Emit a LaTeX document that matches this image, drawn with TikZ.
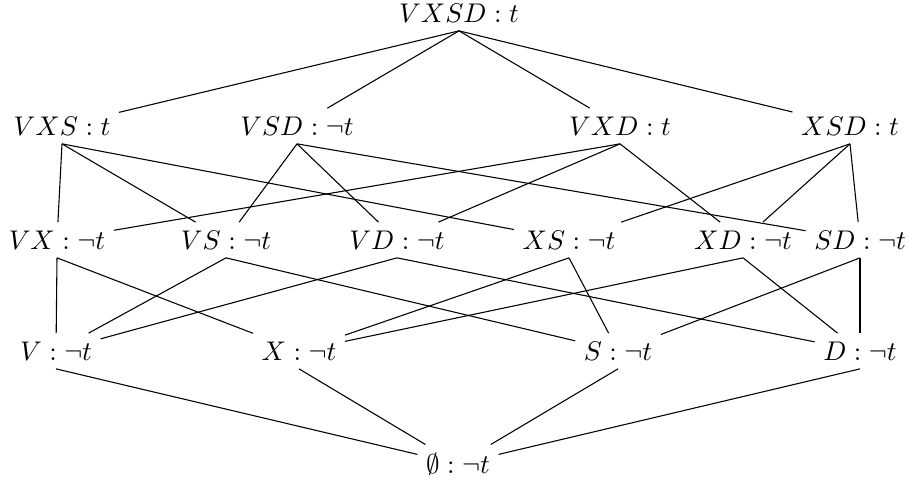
\documentclass[tikz,border=0pt]{standalone}
\usepackage{amsmath,amssymb}
\usepackage{tikz}
\usetikzlibrary{positioning}

\begin{document}
\begin{tikzpicture}[
  x=0.37037pt,y=-0.37037pt,
  elem/.style={inner sep=3pt},
  edge/.style={thin}
]
\useasboundingbox (0,0) rectangle (909,483);
% top
\node[elem] (vxsd) at (459,13) {$VXSD : t$};
% three elements
\node[elem] (vxs) at (62,126) {$VXS : t$};
\node[elem] (vsd) at (297,126) {$VSD : \neg t$};
\node[elem] (vxd) at (620,126) {$VXD : t$};
\node[elem] (xsd) at (850,126) {$XSD : t$};
% two elements
\node[elem] (vx) at (57,240) {$VX : \neg t$};
\node[elem] (vs) at (226,240) {$VS : \neg t$};
\node[elem] (vd) at (397,240) {$VD : \neg t$};
\node[elem] (xs) at (569,240) {$XS : \neg t$};
\node[elem] (xd) at (743,240) {$XD : \neg t$};
\node[elem] (sd) at (860,240) {$SD : \neg t$};
% one element
\node[elem] (v) at (56,351) {$V : \neg t$};
\node[elem] (x) at (299,351) {$X : \neg t$};
\node[elem] (s) at (618,351) {$S : \neg t$};
\node[elem] (d) at (860,351) {$D : \neg t$};
% bottom
\node[elem] (empty) at (458,464) {$\emptyset : \neg t$};

\draw[edge] (vxsd.south) -- (vxs);
\draw[edge] (vxsd.south) -- (vsd);
\draw[edge] (vxsd.south) -- (vxd);
\draw[edge] (vxsd.south) -- (xsd);

\draw[edge] (vxs.south) -- (vx);
\draw[edge] (vxs.south) -- (vs);
\draw[edge] (vxs.south) -- (xs);
\draw[edge] (vsd.south) -- (vs);
\draw[edge] (vsd.south) -- (vd);
\draw[edge] (vsd.south) -- (sd);
\draw[edge] (vxd.south) -- (vx);
\draw[edge] (vxd.south) -- (vd);
\draw[edge] (vxd.south) -- (xd);
\draw[edge] (xsd.south) -- (xs);
\draw[edge] (xsd.south) -- (xd);
\draw[edge] (xsd.south) -- (sd);

\draw[edge] (vx.south) -- (v);
\draw[edge] (vx.south) -- (x);
\draw[edge] (vs.south) -- (v);
\draw[edge] (vs.south) -- (s);
\draw[edge] (vd.south) -- (v);
\draw[edge] (vd.south) -- (d);
\draw[edge] (xs.south) -- (x);
\draw[edge] (xs.south) -- (s);
\draw[edge] (xd.south) -- (x);
\draw[edge] (xd.south) -- (d);
\draw[edge] (sd.south) -- (s);
\draw[edge] (sd.south) -- (d);

\draw[edge] (v.south) -- (empty);
\draw[edge] (x.south) -- (empty);
\draw[edge] (s.south) -- (empty);
\draw[edge] (d.south) -- (empty);
\end{tikzpicture}
\end{document}
